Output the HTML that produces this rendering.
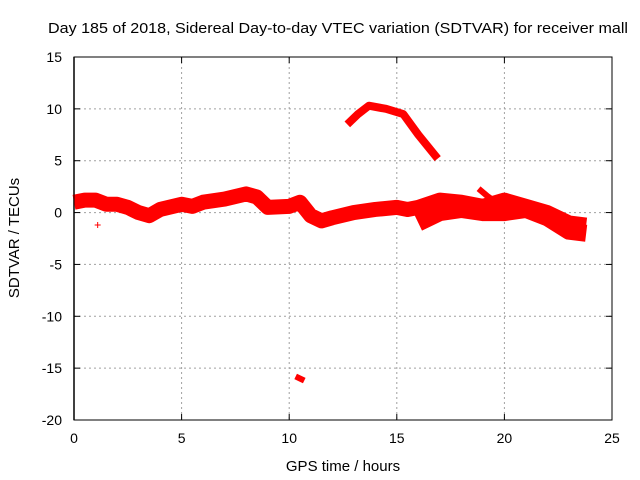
<!DOCTYPE html>
<html><head><meta charset="utf-8"><style>
body{margin:0;background:#fff}
svg{display:block;font-family:"Liberation Sans",sans-serif}
</style></head><body>
<svg id="chart" width="640" height="480">
<text x="338" y="33" font-size="15" text-anchor="middle" textLength="580" lengthAdjust="spacingAndGlyphs">Day 185 of 2018, Sidereal Day-to-day VTEC variation (SDTVAR) for receiver mall</text>
<g id="grid"></g>
<g id="ticks"></g>
<g id="marks"></g>
<rect x="74" y="57" width="538" height="363" fill="none" stroke="#000"/>
<text x="343" y="471" font-size="15" text-anchor="middle">GPS time / hours</text>
<text transform="translate(19,238) rotate(-90)" font-size="15" text-anchor="middle">SDTVAR / TECUs</text>
</svg>
<script>
const xTicks=[0,5,10,15,20,25];
const yTicks=[15,10,5,0,-5,-10,-15,-20];
const bandHours=[0,0.5,1,1.5,2,2.5,3,3.5,4,5,5.5,6,7,8,8.5,9,10,10.5,11,11.5,12,13,14,15,15.5,16,17,18,19,20,21,22,23,23.8];
const bandValues=[1.0,1.2,1.2,0.8,0.8,0.5,0,-0.3,0.3,0.8,0.6,1.0,1.3,1.8,1.5,0.5,0.6,1.0,-0.3,-0.8,-0.5,0,0.3,0.5,0.3,0.5,1.2,1.0,0.6,1.2,0.6,0,-1.0,-1.2];
const lowerHours=[16,17,18,19,20,21,22,23,23.8];
const lowerValues=[-1.0,0,0.3,0,0,0.3,-0.5,-1.8,-2.0];
const arcHours=[12.7,13.2,13.7,14.5,15.3,16,16.9];
const arcValues=[8.5,9.5,10.3,10.0,9.5,7.5,5.2];
const hookHours=[18.8,19.2,19.6];
const hookValues=[2.3,1.6,1.0];
const spotHours=[10.3,10.7];
const spotValues=[-15.8,-16.2];
const crossHours=[1.1];
const crossValues=[-1.2];
const X=h=>74+h*538/25;
const Y=v=>57+(15-v)*363/35;
const NS="http://www.w3.org/2000/svg";
const grid=document.getElementById('grid'),ticks=document.getElementById('ticks'),marks=document.getElementById('marks');
function mk(t,a,p){const e=document.createElementNS(NS,t);for(const k in a)e.setAttribute(k,a[k]);p.appendChild(e);return e;}
xTicks.forEach(t=>{
 if(t>0&&t<25){const g=mk('line',{x1:X(t),x2:X(t),y1:57,y2:420,stroke:'#a0a0a0','stroke-dasharray':'2,3'},grid);
 
 }
 mk('line',{x1:X(t),x2:X(t),y1:420,y2:414,stroke:'#000'},ticks);
 mk('line',{x1:X(t),x2:X(t),y1:57,y2:63,stroke:'#000'},ticks);
 const l=mk('text',{x:X(t),y:443,'font-size':14,'text-anchor':'middle'},ticks);l.textContent=t;
 
 
});
yTicks.forEach(t=>{
 if(t<15&&t>-20){const g=mk('line',{x1:74,x2:612,y1:Y(t),y2:Y(t),stroke:'#a0a0a0','stroke-dasharray':'2,3'},grid);
 
 }
 mk('line',{x1:74,x2:80,y1:Y(t),y2:Y(t),stroke:'#000'},ticks);
 mk('line',{x1:606,x2:612,y1:Y(t),y2:Y(t),stroke:'#000'},ticks);
 const l=mk('text',{x:62,y:Y(t)+5,'font-size':14,'text-anchor':'end'},ticks);l.textContent=t;
 
 
});
mk('line',{x1:74,x2:74,y1:57,y2:420,stroke:'#000','stroke-width':1.5},ticks);
function series(hs,vs,w,name){
 const p=mk('polyline',{points:hs.map((h,i)=>X(h)+','+Y(vs[i])).join(' '),fill:'none',stroke:'#f00','stroke-width':w,'stroke-linejoin':'round','stroke-linecap':'butt'},marks);
 
 
}
series(bandHours,bandValues,15,'sdtvar-main-band');
series(lowerHours,lowerValues,17,'sdtvar-lower-band');
series(arcHours,arcValues,8,'sdtvar-arc');
series(hookHours,hookValues,6,'sdtvar-hook');
series(spotHours,spotValues,6,'sdtvar-outlier');
crossHours.forEach((h,i)=>{
 const x=X(h),y=Y(crossValues[i]);
 const c=mk('path',{d:`M${x-3},${y}H${x+3}M${x},${y-3}V${y+3}`,stroke:'#f00','stroke-width':1},marks);
 
 
});
</script>
</body></html>
